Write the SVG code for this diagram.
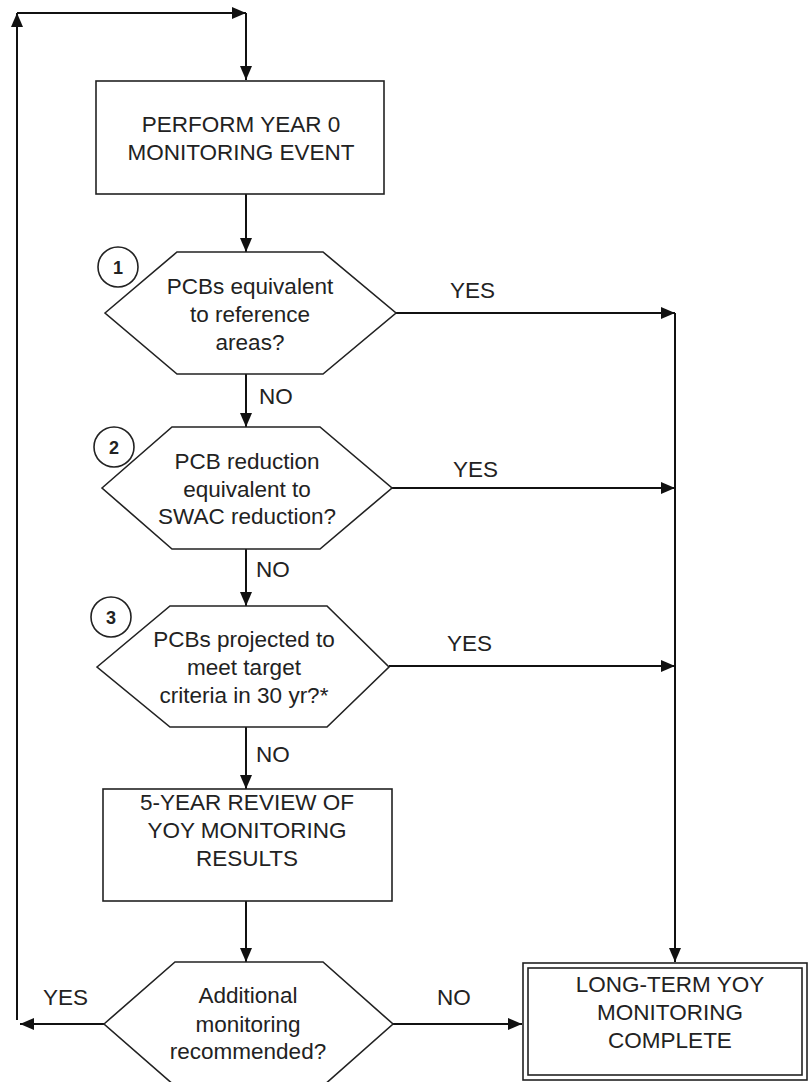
<svg xmlns="http://www.w3.org/2000/svg" width="808" height="1082" viewBox="0 0 808 1082">
  <defs>
    <marker id="arrow" viewBox="0 0 14 12" markerWidth="14" markerHeight="12" refX="14" refY="6" orient="auto" markerUnits="userSpaceOnUse">
      <path d="M0,0 L14,6 L0,12 z" fill="#111"/>
    </marker>
    <style>
      .shape { fill: #fff; stroke: #222; stroke-width: 1.6; }
      .conn { fill: none; stroke: #111; stroke-width: 2; }
      .arr { marker-end: url(#arrow); }
      .lbl { font-family: "Liberation Sans", Arial, sans-serif; font-size: 22.5px; fill: #222; }
      .mid { text-anchor: middle; }
      .num { font-family: "Liberation Sans", Arial, sans-serif; font-size: 18px; font-weight: bold; fill: #222; text-anchor: middle; }
      .badge { fill: #fff; stroke: #222; stroke-width: 1.6; }
    </style>
  </defs>
  <rect width="808" height="1082" fill="#fff"/>

  <!-- connectors -->
  <g id="connectors">
    <!-- loop back from the last decision to the start -->
    <path class="conn" d="M17,1020 V14"/>
    <path class="conn arr" d="M17,40 V13"/>
    <path class="conn arr" d="M17,13 H246"/>
    <path class="conn arr" d="M246,13 V80"/>
    <!-- main spine -->
    <path class="conn arr" d="M246,194 V252"/>
    <path class="conn arr" d="M246,374 V427"/>
    <path class="conn arr" d="M246,549 V606"/>
    <path class="conn arr" d="M246,727 V789"/>
    <path class="conn arr" d="M246,901 V962"/>
    <!-- YES branches to the collector line -->
    <path class="conn arr" d="M396,313 H675"/>
    <path class="conn arr" d="M392,488 H675"/>
    <path class="conn arr" d="M389,666 H675"/>
    <path class="conn arr" d="M675,313 V962"/>
    <!-- last decision outputs -->
    <path class="conn arr" d="M104,1024 H20"/>
    <path class="conn arr" d="M393,1024 H522"/>
  </g>

  <!-- edge labels -->
  <g id="edge-labels">
    <text class="lbl" x="450" y="298">YES</text>
    <text class="lbl" x="453" y="477">YES</text>
    <text class="lbl" x="447" y="651">YES</text>
    <text class="lbl" x="43" y="1005">YES</text>
    <text class="lbl" x="259" y="404">NO</text>
    <text class="lbl" x="256" y="577">NO</text>
    <text class="lbl" x="256" y="762">NO</text>
    <text class="lbl" x="437" y="1005">NO</text>
  </g>

  <g id="start">
    <rect class="shape" x="96" y="81" width="288" height="113"/>
    <text class="lbl mid" x="241" y="132">PERFORM YEAR 0</text>
    <text class="lbl mid" x="241" y="160">MONITORING EVENT</text>
  </g>

  <g id="decision1">
    <polygon class="shape" points="105,313 177,252 323,252 396,313 323,374 177,374"/>
    <text class="lbl mid" x="250" y="294">PCBs equivalent</text>
    <text class="lbl mid" x="250" y="322">to reference</text>
    <text class="lbl mid" x="250" y="350">areas?</text>
    <circle class="badge" cx="118" cy="267" r="20"/>
    <text class="num" x="118" y="273.5">1</text>
  </g>

  <g id="decision2">
    <polygon class="shape" points="102,488 172,427 320,427 392,488 320,549 172,549"/>
    <text class="lbl mid" x="247" y="469">PCB reduction</text>
    <text class="lbl mid" x="247" y="497">equivalent to</text>
    <text class="lbl mid" x="247" y="524">SWAC reduction?</text>
    <circle class="badge" cx="114" cy="447" r="20"/>
    <text class="num" x="114" y="453.5">2</text>
  </g>

  <g id="decision3">
    <polygon class="shape" points="97,667 170,606 327,606 389,667 327,727 170,727"/>
    <text class="lbl mid" x="244" y="647">PCBs projected to</text>
    <text class="lbl mid" x="244" y="675">meet target</text>
    <text class="lbl mid" x="244" y="703">criteria in 30 yr?*</text>
    <circle class="badge" cx="111" cy="617" r="20"/>
    <text class="num" x="111" y="623.5">3</text>
  </g>

  <g id="review">
    <rect class="shape" x="103" y="789" width="289" height="112"/>
    <text class="lbl mid" x="247" y="810">5-YEAR REVIEW OF</text>
    <text class="lbl mid" x="247" y="838">YOY MONITORING</text>
    <text class="lbl mid" x="247" y="866">RESULTS</text>
  </g>

  <g id="decision4">
    <polygon class="shape" points="104,1024 175,962 323,962 393,1024 323,1086 175,1086"/>
    <text class="lbl mid" x="248" y="1003">Additional</text>
    <text class="lbl mid" x="248" y="1032">monitoring</text>
    <text class="lbl mid" x="248" y="1059">recommended?</text>
  </g>

  <g id="complete">
    <rect class="shape" x="523" y="963" width="284" height="117"/>
    <rect fill="none" stroke="#222" stroke-width="1.6" x="528" y="968" width="274" height="107"/>
    <text class="lbl mid" x="670" y="992">LONG-TERM YOY</text>
    <text class="lbl mid" x="670" y="1020">MONITORING</text>
    <text class="lbl mid" x="670" y="1048">COMPLETE</text>
  </g>
</svg>
